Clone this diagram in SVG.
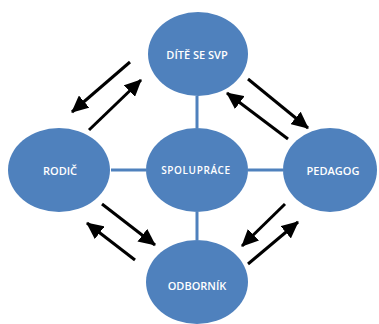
<svg xmlns="http://www.w3.org/2000/svg" width="379" height="324" viewBox="0 0 379 324">
<style>
.node{fill:#4f81bd;}
.lbl{fill:#fff;font-family:"Open Sans","Liberation Sans",sans-serif;font-weight:600;font-size:11px;text-anchor:middle;dominant-baseline:central;}
.link{stroke:#4f81bd;stroke-width:3;fill:none;}
.arr{stroke:#000;stroke-width:3;fill:none;marker-end:url(#ah);}
</style>
<defs>
<marker id="ah" markerUnits="userSpaceOnUse" markerWidth="18" markerHeight="16" refX="16" refY="8" orient="auto">
<path d="M0,0 L17,8 L0,16 Z" fill="#000"/>
</marker>
</defs>
<g id="connectors">
<line class="link" x1="197" y1="96" x2="197" y2="128"/>
<line class="link" x1="111" y1="170" x2="146" y2="170"/>
<line class="link" x1="248" y1="170" x2="283" y2="170"/>
<line class="link" x1="197" y1="212" x2="197" y2="240"/>
<line class="arr" x1="130" y1="62" x2="72" y2="112"/>
<line class="arr" x1="89" y1="130" x2="141" y2="80"/>
<line class="arr" x1="248" y1="79" x2="308" y2="128"/>
<line class="arr" x1="288" y1="139" x2="227" y2="93"/>
<line class="arr" x1="102" y1="204" x2="155" y2="245"/>
<line class="arr" x1="135" y1="260" x2="87" y2="223"/>
<line class="arr" x1="285" y1="204" x2="242" y2="246"/>
<line class="arr" x1="248" y1="264" x2="298" y2="222"/>
</g>
<g id="dite">
<ellipse class="node" cx="198" cy="54" rx="50" ry="42"/>
<text class="lbl" x="197" y="54">DÍTĚ SE SVP</text>
</g>
<g id="rodic">
<ellipse class="node" cx="59" cy="170" rx="51" ry="42"/>
<text class="lbl" x="60" y="170">RODIČ</text>
</g>
<g id="spoluprace">
<ellipse class="node" cx="197" cy="170" rx="51" ry="42"/>
<text class="lbl" x="196" y="170" style="font-size:10px;letter-spacing:0.6px">SPOLUPRÁCE</text>
</g>
<g id="pedagog">
<ellipse class="node" cx="330" cy="170" rx="47" ry="42"/>
<text class="lbl" x="333" y="170">PEDAGOG</text>
</g>
<g id="odbornik">
<ellipse class="node" cx="197" cy="282" rx="51" ry="42"/>
<text class="lbl" x="197" y="285">ODBORNÍK</text>
</g>
</svg>
